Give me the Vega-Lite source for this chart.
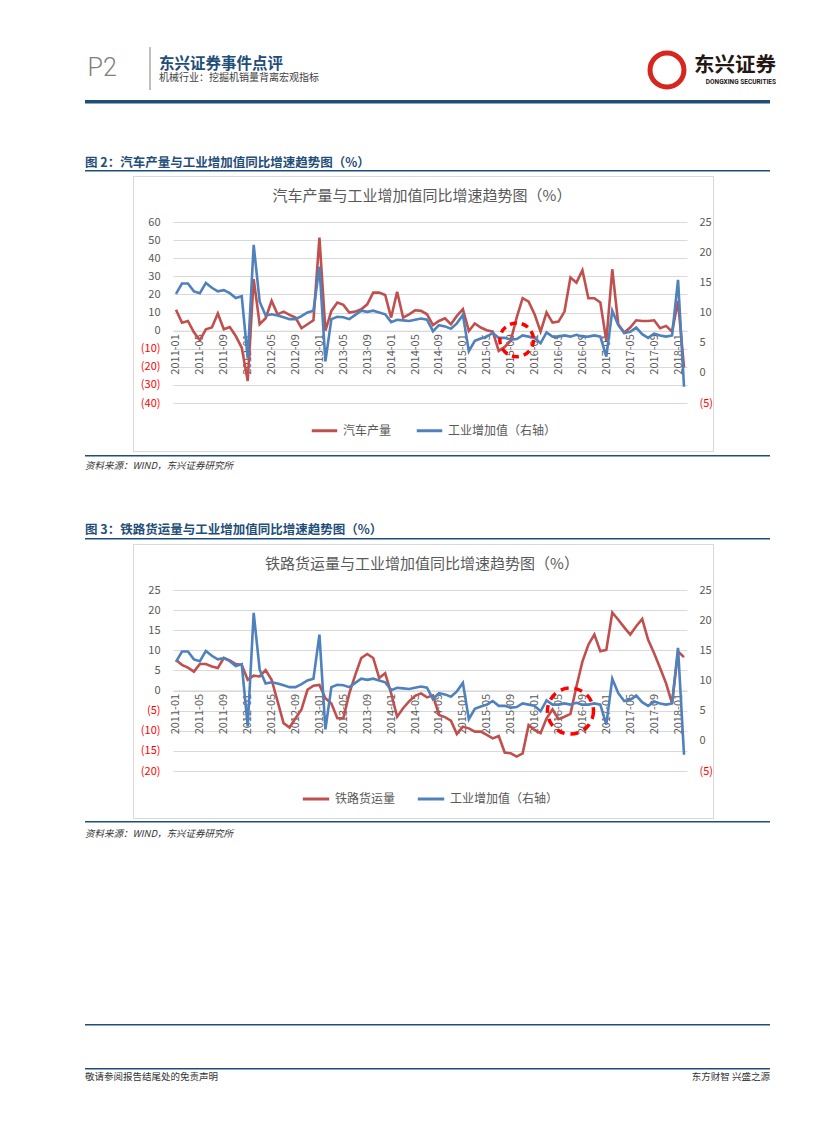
{
"$schema":"https://vega.github.io/schema/vega-lite/v6.json",
"background":"white",
"padding":{"left":85,"top":0,"right":0,"bottom":0},
"config":{"font":"Noto Sans CJK SC","view":{"stroke":null},"axis":{"labelFont":"Noto Sans CJK SC"},"legend":{"labelFont":"Noto Sans CJK SC"},"title":{"font":"Noto Sans CJK SC","subtitleFont":"Noto Sans CJK SC"}},
"datasets":{
"e":[],
"m":[
{"m":"2011-01","auto":11.5,"rail":7.6,"iva":13.1},
{"m":"2011-02","auto":4.4,"rail":6.4,"iva":14.8},
{"m":"2011-03","auto":5.3,"rail":5.7,"iva":14.8},
{"m":"2011-04","auto":-1,"rail":4.7,"iva":13.5},
{"m":"2011-05","auto":-5.3,"rail":6.6,"iva":13.2},
{"m":"2011-06","auto":0.7,"rail":6.6,"iva":14.9},
{"m":"2011-07","auto":1.7,"rail":6,"iva":14.1},
{"m":"2011-08","auto":9.4,"rail":5.6,"iva":13.5},
{"m":"2011-09","auto":0.7,"rail":8.1,"iva":13.7},
{"m":"2011-10","auto":2,"rail":7.5,"iva":13.2},
{"m":"2011-11","auto":-3,"rail":6.6,"iva":12.4},
{"m":"2011-12","auto":-9.4,"rail":6.4,"iva":12.7},
{"m":"2012-01","auto":-27.8,"rail":2.7,"iva":2.4},
{"m":"2012-02","auto":28.4,"rail":3.7,"iva":21.2},
{"m":"2012-03","auto":3.5,"rail":3.5,"iva":11.8},
{"m":"2012-04","auto":6.8,"rail":5.1,"iva":9.5},
{"m":"2012-05","auto":16.4,"rail":2.7,"iva":9.7},
{"m":"2012-06","auto":9,"rail":-2.7,"iva":9.5},
{"m":"2012-07","auto":10.5,"rail":-8.1,"iva":9.2},
{"m":"2012-08","auto":8.7,"rail":-9.2,"iva":8.9},
{"m":"2012-09","auto":7.2,"rail":-6.9,"iva":8.9},
{"m":"2012-10","auto":1.3,"rail":-4.7,"iva":9.4},
{"m":"2012-11","auto":3.5,"rail":0.2,"iva":10},
{"m":"2012-12","auto":5.7,"rail":1.2,"iva":10.3},
{"m":"2013-01","auto":51.4,"rail":1.4,"iva":17.6},
{"m":"2013-02","auto":0,"rail":-1.9,"iva":1.9},
{"m":"2013-03","auto":10.9,"rail":-3.2,"iva":8.9},
{"m":"2013-04","auto":15.5,"rail":-6.9,"iva":9.3},
{"m":"2013-05","auto":14.2,"rail":-6.9,"iva":9.2},
{"m":"2013-06","auto":10,"rail":-0.7,"iva":8.9},
{"m":"2013-07","auto":10.5,"rail":3.9,"iva":9.6},
{"m":"2013-08","auto":11.8,"rail":8.1,"iva":10.3},
{"m":"2013-09","auto":14.5,"rail":9.1,"iva":10.1},
{"m":"2013-10","auto":21,"rail":8.1,"iva":10.3},
{"m":"2013-11","auto":21,"rail":3.1,"iva":10},
{"m":"2013-12","auto":19.7,"rail":4.3,"iva":9.7},
{"m":"2014-01","auto":7.2,"rail":-0.7,"iva":8.4},
{"m":"2014-02","auto":21.5,"rail":-6.5,"iva":8.8},
{"m":"2014-03","auto":7.2,"rail":-4.4,"iva":8.7},
{"m":"2014-04","auto":9,"rail":-2.7,"iva":8.6},
{"m":"2014-05","auto":11.2,"rail":-1.3,"iva":8.8},
{"m":"2014-06","auto":10.9,"rail":-0.7,"iva":9},
{"m":"2014-07","auto":9,"rail":-1.7,"iva":8.8},
{"m":"2014-08","auto":3,"rail":-1.2,"iva":6.9},
{"m":"2014-09","auto":5.3,"rail":-6.1,"iva":7.9},
{"m":"2014-10","auto":6.8,"rail":-6.6,"iva":7.7},
{"m":"2014-11","auto":3.5,"rail":-7.5,"iva":7.3},
{"m":"2014-12","auto":8.1,"rail":-10.8,"iva":8.2},
{"m":"2015-01","auto":11.8,"rail":-9,"iva":9.6},
{"m":"2015-02","auto":-0.2,"rail":-9.4,"iva":3.6},
{"m":"2015-03","auto":3.9,"rail":-10.2,"iva":5.3},
{"m":"2015-04","auto":1.7,"rail":-10.2,"iva":5.7},
{"m":"2015-05","auto":0.2,"rail":-11,"iva":6},
{"m":"2015-06","auto":-0.6,"rail":-11.9,"iva":6.6},
{"m":"2015-07","auto":-11.2,"rail":-11.3,"iva":5.8},
{"m":"2015-08","auto":-9,"rail":-15.4,"iva":5.8},
{"m":"2015-09","auto":-5.7,"rail":-15.6,"iva":5.5},
{"m":"2015-10","auto":7.2,"rail":-16.4,"iva":5.6},
{"m":"2015-11","auto":17.9,"rail":-15.6,"iva":6.2},
{"m":"2015-12","auto":16,"rail":-8.6,"iva":6},
{"m":"2016-01","auto":9,"rail":-9.8,"iva":5.8},
{"m":"2016-02","auto":-0.6,"rail":-10.6,"iva":4.9},
{"m":"2016-03","auto":10,"rail":-6.9,"iva":6.7},
{"m":"2016-04","auto":4.4,"rail":-4.7,"iva":6},
{"m":"2016-05","auto":5,"rail":-7.1,"iva":6},
{"m":"2016-06","auto":10.5,"rail":-6.5,"iva":6.2},
{"m":"2016-07","auto":29.3,"rail":-5.8,"iva":6},
{"m":"2016-08","auto":26.5,"rail":1,"iva":6.3},
{"m":"2016-09","auto":33.3,"rail":7.2,"iva":6},
{"m":"2016-10","auto":17.9,"rail":11.4,"iva":6},
{"m":"2016-11","auto":17.9,"rail":13.9,"iva":6.2},
{"m":"2016-12","auto":15.5,"rail":9.8,"iva":6},
{"m":"2017-01","auto":-5.7,"rail":10.1,"iva":2.7},
{"m":"2017-02","auto":33.9,"rail":19.4,"iva":10.3},
{"m":"2017-03","auto":3.5,"rail":17.6,"iva":7.9},
{"m":"2017-04","auto":-1.1,"rail":15.7,"iva":6.6},
{"m":"2017-05","auto":1.7,"rail":13.9,"iva":6.8},
{"m":"2017-06","auto":5.7,"rail":16,"iva":7.5},
{"m":"2017-07","auto":5.3,"rail":17.8,"iva":6.4},
{"m":"2017-08","auto":5.3,"rail":12.6,"iva":5.8},
{"m":"2017-09","auto":5.7,"rail":9.3,"iva":6.5},
{"m":"2017-10","auto":1.3,"rail":5.6,"iva":6.2},
{"m":"2017-11","auto":2.6,"rail":1.8,"iva":6},
{"m":"2017-12","auto":-0.6,"rail":-3.2,"iva":6.2},
{"m":"2018-01","auto":16.4,"rail":9.7,"iva":15.4},
{"m":"2018-02","auto":-20.4,"rail":8.3,"iva":-2.3}
],
"c1":[{"m":"2015-10","v":-5.1}],
"c2":[{"m":"2016-07","v":-5.1}]
},
"spacing":0,
"resolve":{"scale":{"color":"independent","x":"independent","y":"independent"},"legend":{"color":"independent"}},
"vconcat":[
{"hconcat":[
  {"width":64,"height":100,"data":{"name":"e"},"mark":"point","encoding":{},
   "title":{"text":"P2","orient":"top","anchor":"start","frame":"group","offset":-81,"dx":2.5,"fontSize":25,"font":"Roboto","fontWeight":300,"color":"#7f7f7f"}},
  {"vconcat":[
    {"width":2,"height":47,"data":{"name":"e"},"mark":"point","encoding":{}},
    {"width":2,"height":43,"view":{"fill":"#bfbfbf","stroke":null},"data":{"name":"e"},"mark":"point","encoding":{}}
  ],"spacing":0},
  {"width":489,"height":100,"data":{"name":"e"},"mark":"point","encoding":{},
   "title":{"text":"东兴证券事件点评","subtitle":"机械行业：挖掘机销量背离宏观指标","orient":"top","anchor":"start","frame":"group","offset":-83,"dx":8,"fontSize":15.5,"fontWeight":"bold","color":"#1f4e79","subtitleFontSize":10,"subtitleColor":"#404040","subtitlePadding":1}},
  {"vconcat":[
    {"width":50,"height":43,"data":{"name":"e"},"mark":"point","encoding":{}},
    {"width":50,"height":44,"data":{"values":[{}]},"mark":{"type":"point","shape":"circle","filled":false,"size":1150,"stroke":"#d7261e","strokeWidth":5,"opacity":1},"encoding":{}}
  ],"spacing":0},
  {"width":80,"height":100,"data":{"name":"e"},"mark":"point","encoding":{},
   "title":{"text":"东兴证券","subtitle":"DONGXING SECURITIES","orient":"top","anchor":"end","frame":"group","offset":-85,"fontSize":20.5,"fontWeight":"bold","color":"#231815","subtitleFont":"Roboto","subtitleFontSize":6.5,"subtitleFontWeight":"bold","subtitleColor":"#231815","subtitlePadding":2}}
],"spacing":0},
{"width":685,"height":3.5,"view":{"fill":"#1f4e79","stroke":null},"data":{"name":"e"},"mark":"point","encoding":{}},
{"width":685,"height":66,"data":{"name":"e"},"mark":"point","encoding":{},
 "title":{"text":"图 2：汽车产量与工业增加值同比增速趋势图（%）","orient":"bottom","anchor":"start","frame":"group","offset":-12.9,"fontSize":12.5,"fontWeight":"bold","color":"#1f4e79"}},
{"width":685,"height":1.5,"view":{"fill":"#1f4e79","stroke":null},"data":{"name":"e"},"mark":"point","encoding":{}},
{"vconcat":[
  {"width":685,"height":4,"data":{"name":"e"},"mark":"point","encoding":{}},
  {"hconcat":[
    {"width":48,"height":1,"data":{"name":"e"},"mark":"point","encoding":{}},
    {"width":581,"height":1,"view":{"fill":"#d9d9d9","stroke":null},"data":{"name":"e"},"mark":"point","encoding":{}}
  ],"spacing":0},
  {"hconcat":[
    {"width":48,"height":33,"data":{"name":"e"},"mark":"point","encoding":{}},
    {"width":1,"height":33,"view":{"fill":"#d9d9d9","stroke":null},"data":{"name":"e"},"mark":"point","encoding":{}},
    {"width":579,"height":33,"data":{"name":"e"},"mark":"point","encoding":{},
     "title":{"text":"汽车产量与工业增加值同比增速趋势图（%）","orient":"bottom","anchor":"middle","frame":"group","offset":-21.5,"dx":-1.5,"fontSize":15,"fontWeight":"normal","color":"#595959"}},
    {"width":1,"height":33,"view":{"fill":"#d9d9d9","stroke":null},"data":{"name":"e"},"mark":"point","encoding":{}}
  ],"spacing":0,"bounds":"flush"},
  {"hconcat":[
    {"width":48,"height":241,"data":{"name":"e"},"mark":"point","encoding":{}},
    {"width":1,"height":241,"view":{"fill":"#d9d9d9","stroke":null},"data":{"name":"e"},"mark":"point","encoding":{}},
    {"width":39,"height":241,"data":{"name":"e"},"mark":"point","encoding":{}},
    {"width":514,"height":193,
     "layer":[
      {"data":{"name":"m"},"mark":{"type":"line","strokeWidth":2.6},
       "encoding":{
        "x":{"field":"m","type":"ordinal","scale":{"type":"point","padding":0.5},
          "axis":{"values":["2011-01","2011-05","2011-09","2012-01","2012-05","2012-09","2013-01","2013-05","2013-09","2014-01","2014-05","2014-09","2015-01","2015-05","2015-09","2016-01","2016-05","2016-09","2017-01","2017-05","2017-09","2018-01"],"labelAngle":-90,"labelFontSize":11,"labelColor":"#595959","labelPadding":3,"ticks":false,"domain":true,"domainColor":"#d9d9d9","offset":-72.3,"title":null,"labelOverlap":false,"grid":false}},
        "y":{"field":"auto","type":"quantitative","scale":{"domain":[-40,66.63],"nice":false,"zero":false},
          "axis":{"orient":"left","values":[-40,-30,-20,-10,0,10,20,30,40,50,60],"grid":true,"gridColor":"#d9d9d9","domain":false,"ticks":false,"labelPadding":13,"labelFontSize":11,"labelColor":{"condition":{"test":"datum.value < 0","value":"#ff0000"},"value":"#595959"},"labelExpr":"datum.value < 0 ? '(' + (-datum.value) + ')' : datum.label","title":null}},
        "color":{"datum":"汽车产量","type":"nominal","scale":{"domain":["汽车产量","工业增加值（右轴）"],"range":["#c0504d","#4f81bd"]},
          "legend":{"orient":"none","legendX":137,"legendY":206,"direction":"horizontal","title":null,"symbolType":"stroke","symbolStrokeWidth":3,"symbolSize":650,"labelFontSize":12,"labelColor":"#595959","columnPadding":18,"labelOffset":4}}
       }},
      {"data":{"name":"m"},"mark":{"type":"line","strokeWidth":2.6},
       "encoding":{
        "x":{"field":"m","type":"ordinal"},
        "y":{"field":"iva","type":"quantitative","scale":{"domain":[-5,26.989],"nice":false,"zero":false},
          "axis":{"orient":"right","values":[-5,0,5,10,15,20,25],"grid":false,"domain":false,"ticks":false,"labelPadding":12,"labelFontSize":11,"labelColor":{"condition":{"test":"datum.value < 0","value":"#ff0000"},"value":"#595959"},"labelExpr":"datum.value < 0 ? '(' + (-datum.value) + ')' : datum.label","title":null}},
        "color":{"datum":"工业增加值（右轴）","type":"nominal"}
       }},
      {"data":{"name":"c1"},"mark":{"type":"point","shape":"circle","filled":false,"size":1134,"stroke":"#ff0000","strokeWidth":3.5,"strokeDash":[7,5],"opacity":1},
       "encoding":{
        "x":{"field":"m","type":"ordinal"},
        "y":{"field":"v","type":"quantitative","scale":{"domain":[-40,66.63],"nice":false,"zero":false},"axis":null}
       }}
     ],
     "resolve":{"scale":{"y":"independent"}}
    },
    {"width":26,"height":241,"data":{"name":"e"},"mark":"point","encoding":{}},
    {"width":1,"height":241,"view":{"fill":"#d9d9d9","stroke":null},"data":{"name":"e"},"mark":"point","encoding":{}}
  ],"spacing":0,"bounds":"flush","resolve":{"scale":{"color":"independent"},"legend":{"color":"independent"}}},
  {"hconcat":[
    {"width":48,"height":1,"data":{"name":"e"},"mark":"point","encoding":{}},
    {"width":581,"height":1,"view":{"fill":"#d9d9d9","stroke":null},"data":{"name":"e"},"mark":"point","encoding":{}}
  ],"spacing":0},
  {"width":685,"height":3,"data":{"name":"e"},"mark":"point","encoding":{}}
],"spacing":0,"resolve":{"scale":{"color":"independent"},"legend":{"color":"independent"}}},
{"width":685,"height":1.5,"view":{"fill":"#1f4e79","stroke":null},"data":{"name":"e"},"mark":"point","encoding":{}},
{"width":685,"height":33,"data":{"name":"e"},"mark":"point","encoding":{},
 "title":{"text":"资料来源：WIND，东兴证券研究所","orient":"bottom","anchor":"start","frame":"group","offset":-29.2,"fontSize":9.5,"fontStyle":"italic","fontWeight":"normal","color":"#333333"}},
{"width":685,"height":48,"data":{"name":"e"},"mark":"point","encoding":{},
 "title":{"text":"图 3：铁路货运量与工业增加值同比增速趋势图（%）","orient":"bottom","anchor":"start","frame":"group","offset":-13.6,"fontSize":12.5,"fontWeight":"bold","color":"#1f4e79"}},
{"width":685,"height":1.5,"view":{"fill":"#1f4e79","stroke":null},"data":{"name":"e"},"mark":"point","encoding":{}},
{"vconcat":[
  {"width":685,"height":4,"data":{"name":"e"},"mark":"point","encoding":{}},
  {"hconcat":[
    {"width":48,"height":1,"data":{"name":"e"},"mark":"point","encoding":{}},
    {"width":581,"height":1,"view":{"fill":"#d9d9d9","stroke":null},"data":{"name":"e"},"mark":"point","encoding":{}}
  ],"spacing":0},
  {"hconcat":[
    {"width":48,"height":33,"data":{"name":"e"},"mark":"point","encoding":{}},
    {"width":1,"height":33,"view":{"fill":"#d9d9d9","stroke":null},"data":{"name":"e"},"mark":"point","encoding":{}},
    {"width":579,"height":33,"data":{"name":"e"},"mark":"point","encoding":{},
     "title":{"text":"铁路货运量与工业增加值同比增速趋势图（%）","orient":"bottom","anchor":"middle","frame":"group","offset":-20.9,"dx":-1.5,"fontSize":15,"fontWeight":"normal","color":"#595959"}},
    {"width":1,"height":33,"view":{"fill":"#d9d9d9","stroke":null},"data":{"name":"e"},"mark":"point","encoding":{}}
  ],"spacing":0,"bounds":"flush"},
  {"hconcat":[
    {"width":48,"height":240,"data":{"name":"e"},"mark":"point","encoding":{}},
    {"width":1,"height":240,"view":{"fill":"#d9d9d9","stroke":null},"data":{"name":"e"},"mark":"point","encoding":{}},
    {"width":39,"height":240,"data":{"name":"e"},"mark":"point","encoding":{}},
    {"width":514,"height":193,
     "layer":[
      {"data":{"name":"m"},"mark":{"type":"line","strokeWidth":2.6},
       "encoding":{
        "x":{"field":"m","type":"ordinal","scale":{"type":"point","padding":0.5},
          "axis":{"values":["2011-01","2011-05","2011-09","2012-01","2012-05","2012-09","2013-01","2013-05","2013-09","2014-01","2014-05","2014-09","2015-01","2015-05","2015-09","2016-01","2016-05","2016-09","2017-01","2017-05","2017-09","2018-01"],"labelAngle":-90,"labelFontSize":11,"labelColor":"#595959","labelPadding":3,"ticks":false,"domain":true,"domainColor":"#d9d9d9","offset":-80.6,"title":null,"labelOverlap":false,"grid":false}},
        "y":{"field":"rail","type":"quantitative","scale":{"domain":[-20,27.984],"nice":false,"zero":false},
          "axis":{"orient":"left","values":[-20,-15,-10,-5,0,5,10,15,20,25],"grid":true,"gridColor":"#d9d9d9","domain":false,"ticks":false,"labelPadding":13,"labelFontSize":11,"labelColor":{"condition":{"test":"datum.value < 0","value":"#ff0000"},"value":"#595959"},"labelExpr":"datum.value < 0 ? '(' + (-datum.value) + ')' : datum.label","title":null}},
        "color":{"datum":"铁路货运量","type":"nominal","scale":{"domain":["铁路货运量","工业增加值（右轴）"],"range":["#c0504d","#4f81bd"]},
          "legend":{"orient":"none","legendX":128,"legendY":206,"direction":"horizontal","title":null,"symbolType":"stroke","symbolStrokeWidth":3,"symbolSize":700,"labelFontSize":12,"labelColor":"#595959","columnPadding":15,"labelOffset":4}}
       }},
      {"data":{"name":"m"},"mark":{"type":"line","strokeWidth":2.6},
       "encoding":{
        "x":{"field":"m","type":"ordinal"},
        "y":{"field":"iva","type":"quantitative","scale":{"domain":[-5,26.989],"nice":false,"zero":false},
          "axis":{"orient":"right","values":[-5,0,5,10,15,20,25],"grid":false,"domain":false,"ticks":false,"labelPadding":12,"labelFontSize":11,"labelColor":{"condition":{"test":"datum.value < 0","value":"#ff0000"},"value":"#595959"},"labelExpr":"datum.value < 0 ? '(' + (-datum.value) + ')' : datum.label","title":null}},
        "color":{"datum":"工业增加值（右轴）","type":"nominal"}
       }},
      {"data":{"name":"c2"},"mark":{"type":"point","shape":"circle","filled":false,"size":2124,"stroke":"#ff0000","strokeWidth":3.5,"strokeDash":[8,6],"opacity":1},
       "encoding":{
        "x":{"field":"m","type":"ordinal"},
        "y":{"field":"v","type":"quantitative","scale":{"domain":[-20,27.984],"nice":false,"zero":false},"axis":null}
       }}
     ],
     "resolve":{"scale":{"y":"independent"}}
    },
    {"width":26,"height":240,"data":{"name":"e"},"mark":"point","encoding":{}},
    {"width":1,"height":240,"view":{"fill":"#d9d9d9","stroke":null},"data":{"name":"e"},"mark":"point","encoding":{}}
  ],"spacing":0,"bounds":"flush","resolve":{"scale":{"color":"independent"},"legend":{"color":"independent"}}},
  {"hconcat":[
    {"width":48,"height":1,"data":{"name":"e"},"mark":"point","encoding":{}},
    {"width":581,"height":1,"view":{"fill":"#d9d9d9","stroke":null},"data":{"name":"e"},"mark":"point","encoding":{}}
  ],"spacing":0},
  {"width":685,"height":2,"data":{"name":"e"},"mark":"point","encoding":{}}
],"spacing":0,"resolve":{"scale":{"color":"independent"},"legend":{"color":"independent"}}},
{"width":685,"height":1.5,"view":{"fill":"#1f4e79","stroke":null},"data":{"name":"e"},"mark":"point","encoding":{}},
{"width":685,"height":27,"data":{"name":"e"},"mark":"point","encoding":{},
 "title":{"text":"资料来源：WIND，东兴证券研究所","orient":"bottom","anchor":"start","frame":"group","offset":-20.7,"fontSize":9.5,"fontStyle":"italic","fontWeight":"normal","color":"#333333"}},
{"width":685,"height":174,"data":{"name":"e"},"mark":"point","encoding":{}},
{"width":685,"height":1.5,"view":{"fill":"#1f4e79","stroke":null},"data":{"name":"e"},"mark":"point","encoding":{}},
{"width":685,"height":42,"data":{"name":"e"},"mark":"point","encoding":{}},
{"width":685,"height":1.5,"view":{"fill":"#1f4e79","stroke":null},"data":{"name":"e"},"mark":"point","encoding":{}},
{"hconcat":[
  {"width":342,"height":20,"data":{"name":"e"},"mark":"point","encoding":{},
   "title":{"text":"敬请参阅报告结尾处的免责声明","orient":"bottom","anchor":"start","frame":"group","offset":-17.8,"fontSize":9.5,"fontWeight":"normal","color":"#333333"}},
  {"width":343,"height":20,"data":{"name":"e"},"mark":"point","encoding":{},
   "title":{"text":"东方财智 兴盛之源","orient":"bottom","anchor":"end","frame":"group","offset":-17.8,"fontSize":9.5,"fontWeight":"normal","color":"#333333"}}
],"spacing":0}
]
}
